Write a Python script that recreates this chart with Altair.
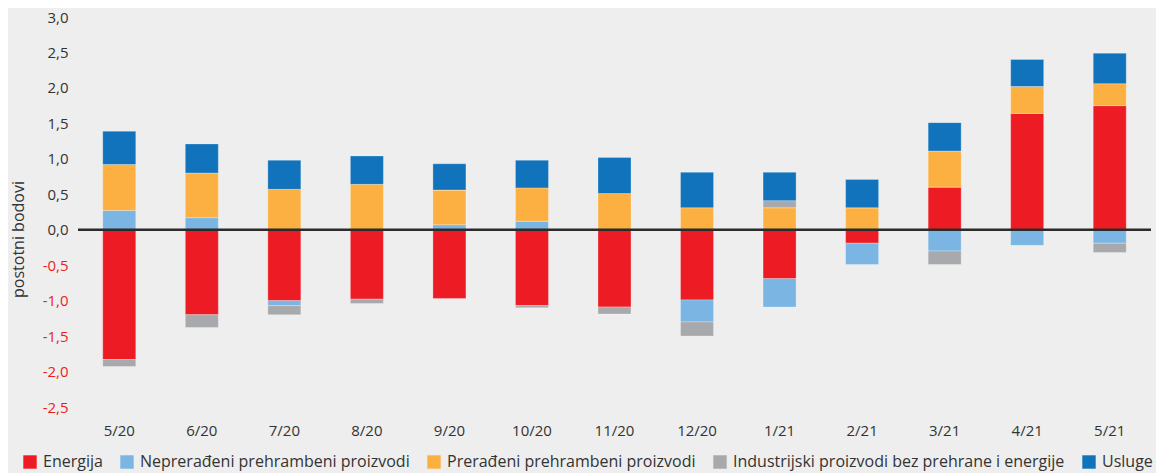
import altair as alt
import pandas as pd

months = ["5/20", "6/20", "7/20", "8/20", "9/20", "10/20", "11/20", "12/20",
          "1/21", "2/21", "3/21", "4/21", "5/21"]
series = ["Energija", "Neprerađeni prehrambeni proizvodi", "Prerađeni prehrambeni proizvodi",
          "Industrijski proizvodi bez prehrane i energije", "Usluge"]
colors = ["#ed1c24", "#7ab5e3", "#fcb042", "#a8a9ac", "#1073bb"]

energija = [-1.83, -1.20, -1.00, -0.98, -0.97, -1.07, -1.09, -0.99, -0.69, -0.19, 0.60, 1.64, 1.75]
neprer = [0.27, 0.17, -0.07, 0.00, 0.07, 0.12, 0.00, -0.31, -0.40, -0.30, -0.30, -0.22, -0.19]
prer = [0.65, 0.63, 0.57, 0.64, 0.49, 0.47, 0.51, 0.31, 0.31, 0.31, 0.51, 0.38, 0.31]
industr = [-0.10, -0.18, -0.13, -0.06, 0.00, -0.03, -0.10, -0.20, 0.10, 0.00, -0.19, 0.00, -0.13]
usluge = [0.47, 0.41, 0.41, 0.40, 0.37, 0.39, 0.51, 0.50, 0.40, 0.40, 0.40, 0.38, 0.43]
y_ticks = [-2.5, -2.0, -1.5, -1.0, -0.5, 0.0, 0.5, 1.0, 1.5, 2.0, 2.5, 3.0]

rows = []
for si, (name, vals) in enumerate(zip(series, [energija, neprer, prer, industr, usluge])):
    for m, v in zip(months, vals):
        rows.append({"mjesec": m, "serija": name, "vrijednost": v, "red": si})
df = pd.DataFrame(rows)

FONT = "Open Sans"

y_axis = alt.Axis(title="postotni bodovi", values=y_ticks,
                  labelExpr="replace(replace(format(datum.value, '.1f'), '.', ','), '\u2212', '-')",
                  labelColor={"expr": "datum.value < 0 ? '#ed1c24' : '#333333'"},
                  labelOverlap=False, labelBound=False, labelFlush=False,
                  labelFontSize=15, labelFont=FONT, labelPadding=10,
                  domain=False, ticks=False, grid=False,
                  titleFont=FONT, titleFontSize=16, titleFontWeight="normal",
                  titleColor="#333333", titleX=-60, titleY=222, titleAngle=270,
                  titleBaseline="middle", titleAlign="center")
y_scale = alt.Scale(domain=[-2.5, 3.0], nice=False, zero=False)

bars = alt.Chart(df).mark_bar(stroke="white", strokeOpacity=0.35, strokeWidth=0.8).encode(
    x=alt.X("mjesec:N", sort=months,
            scale=alt.Scale(paddingInner=0.6, paddingOuter=0.3),
            axis=alt.Axis(title=None, labelAngle=0, domain=False, ticks=False,
                          labelPadding=16, labelFontSize=15, labelColor="#333333",
                          labelFont=FONT)),
    y=alt.Y("vrijednost:Q", stack="zero", scale=y_scale, axis=y_axis),
    color=alt.Color("serija:N", sort=series,
                    scale=alt.Scale(domain=series, range=colors),
                    legend=alt.Legend(title=None, orient="none", direction="horizontal",
                                      legendX=-56, legendY=437, symbolType="square",
                                      symbolSize=180, symbolStrokeWidth=0,
                                      labelFont=FONT, labelFontSize=16, labelColor="#333333",
                                      labelOffset=5, columnPadding=16, labelLimit=400)),
    order=alt.Order("red:Q", sort="ascending"),
)

zero = alt.Chart(pd.DataFrame({"vrijednost": [0]})).mark_rule(color="#2b2b2b", strokeWidth=2.5).encode(
    y=alt.Y("vrijednost:Q", scale=y_scale, axis=y_axis)
)

chart = alt.layer(bars, zero).properties(
    width=1073, height=390,
    background="#eeeeee",
    padding={"left": 70, "top": 9, "right": 5, "bottom": 66},
    autosize=alt.AutoSizeParams(type="none"),
).configure_view(stroke=None)

chart.save("out.html", embed_options={"renderer": "svg", "actions": False})
